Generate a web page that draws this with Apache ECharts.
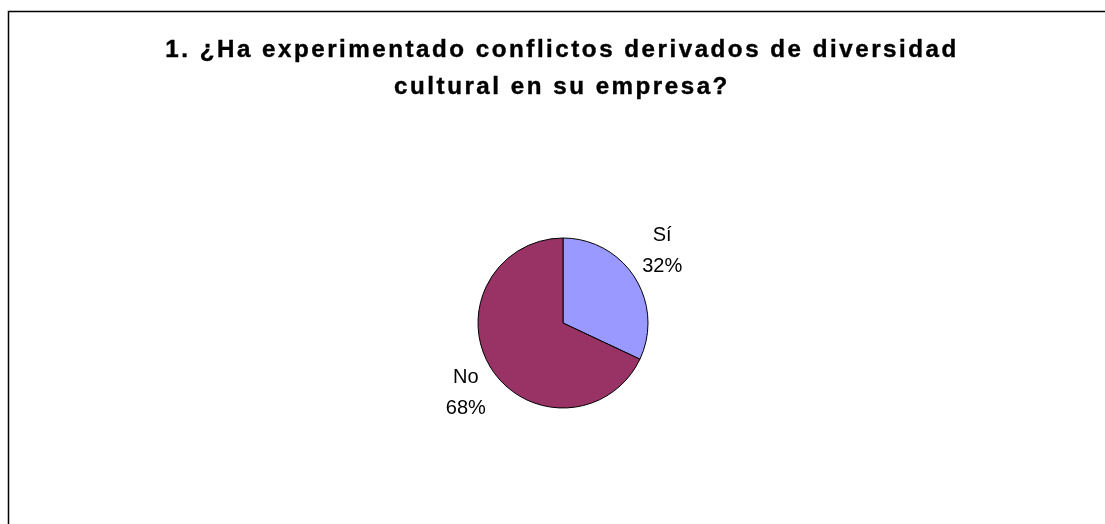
<!DOCTYPE html>
<html>
<head>
<meta charset="utf-8">
<script src="https://cdn.jsdelivr.net/npm/echarts@6/dist/echarts.min.js"></script>
<style>
  html, body { margin: 0; padding: 0; background: #fff; overflow: hidden; }
  #chart { width: 1105px; height: 524px; }
</style>
</head>
<body>
<div id="chart"></div>
<script>
// Data
const titleLines = ['1. ¿Ha experimentado conflictos derivados de diversidad', 'cultural en su empresa?'];
const categories = ['Sí', 'No'];
const values = [32, 68];
const colors = ['#9999FF', '#993366'];

// The reference title uses wide character spacing; apply it to bold canvas text only
(function () {
  const P = CanvasRenderingContext2D.prototype;
  if (!('letterSpacing' in P)) return;
  const apply = function (ctx) {
    ctx.letterSpacing = /bold|700/.test(ctx.font) ? '2.4px' : '0px';
  };
  const mt = P.measureText, ft = P.fillText, st = P.strokeText;
  P.measureText = function (t) { apply(this); return mt.call(this, t); };
  P.fillText = function () { apply(this); return ft.apply(this, arguments); };
  P.strokeText = function () { apply(this); return st.apply(this, arguments); };
})();

const chart = echarts.init(document.getElementById('chart'), null, { renderer: 'canvas' });
chart.setOption({
  backgroundColor: '#ffffff',
  animation: false,
  graphic: [{
    type: 'rect',
    shape: { x: 8.5, y: 11.5, width: 1200, height: 700 },
    style: { fill: 'none', stroke: '#000000', lineWidth: 1.5 },
    silent: true,
    z: 100
  }, {
    type: 'text',
    x: 562,
    y: 32,
    scaleX: 1.05,
    silent: true,
    style: {
      text: titleLines.join('\n'),
      fontFamily: 'Liberation Sans, Arial, sans-serif',
      fontSize: 23,
      fontWeight: 'bold',
      fill: '#000000',
      stroke: '#000000',
      lineWidth: 0.4,
      align: 'center',
      verticalAlign: 'top',
      lineHeight: 37
    }
  }],
  series: [{
    type: 'pie',
    center: [563, 323],
    radius: 85,
    startAngle: 90,
    clockwise: true,
    avoidLabelOverlap: false,
    color: colors,
    itemStyle: { borderColor: '#000000', borderWidth: 1 },
    label: {
      show: true,
      position: 'outside',
      formatter: '{b}\n{d}%',
      fontFamily: 'Liberation Sans, Arial, sans-serif',
      fontSize: 20,
      lineHeight: 31,
      color: '#000000',
      distanceToLabelLine: 0
    },
    labelLine: { show: false, length: 36, length2: 0 },
    labelLayout: function (p) {
      return p.dataIndex === 0 ? { align: 'center', dx: -3, dy: -7 } : { align: 'center', dx: 5, dy: 5 };
    },
    emphasis: { disabled: true },
    data: categories.map((c, i) => ({ name: c, value: values[i] }))
  }]
});
</script>
</body>
</html>
